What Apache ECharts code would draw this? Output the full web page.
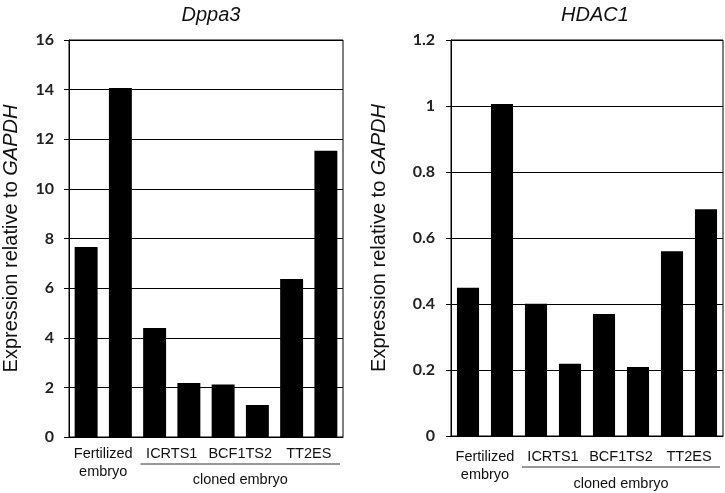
<!DOCTYPE html>
<html><head><meta charset="utf-8">
<script src="https://cdn.jsdelivr.net/npm/echarts@6/dist/echarts.min.js"></script>
<style>html,body{margin:0;padding:0;background:#fff}#c{width:725px;height:493px}</style>
</head><body><div id="c"></div>
<script>
const barCats = ['Fertilized-1','Fertilized-2','ICRTS1-1','ICRTS1-2','BCF1TS2-1','BCF1TS2-2','TT2ES-1','TT2ES-2'];
const groupLabels = ['Fertilized\nembryo','ICRTS1','BCF1TS2','TT2ES'];
const clonedLabels = ['', '', 'cloned embryo', ''];
const dppa3 = [7.66, 14.07, 4.39, 2.18, 2.12, 1.29, 6.37, 11.54];
const hdac1 = [0.449, 1.006, 0.401, 0.219, 0.370, 0.209, 0.560, 0.687];
const titles = ['Dppa3', 'HDAC1'];
const dppa3Ticks = {min: 0, max: 16, interval: 2};
const hdac1Ticks = {min: 0, max: 1.2, interval: 0.2};

const chart = echarts.init(document.getElementById('c'));
const font = 'Liberation Sans, Arial, sans-serif';
const grids = [
  {left: 68, right: 382, top: 40, bottom: 56},
  {left: 451, right: 2, top: 40, bottom: 56}
];
function xAxes(gi, m1, m2) {
  return [
    {gridIndex: gi, type: 'category', data: barCats, position: 'bottom',
     axisLine: {lineStyle: {color: '#000', width: 1}}, axisTick: {show: false}, axisLabel: {show: false}},
    {gridIndex: gi, type: 'category', data: groupLabels, position: 'bottom',
     axisLine: {show: false}, axisTick: {show: false},
     axisLabel: {interval: 0, margin: m1, fontFamily: font, fontSize: 14.5, lineHeight: 18, color: '#111'}},
    {gridIndex: gi, type: 'category', data: clonedLabels, position: 'bottom',
     axisLine: {show: false}, axisTick: {show: false},
     axisLabel: {interval: 0, margin: m2, fontFamily: font, fontSize: 14.5, lineHeight: 18, color: '#111'}}
  ];
}
function yAxis(gi, t, gap, lm) {
  return {gridIndex: gi, type: 'value', min: t.min, max: t.max, interval: t.interval,
    axisLine: {show: true, lineStyle: {color: '#000'}},
    axisTick: {show: true, length: 5, lineStyle: {color: '#000'}},
    splitLine: {lineStyle: {color: '#000', width: 1}},
    axisLabel: {margin: lm, fontFamily: 'Lato, Open Sans, sans-serif', fontWeight: 'bold', fontSize: 16, color: '#222'},
    name: '{n|Expression relative to }{i|GAPDH}', nameLocation: 'middle', nameGap: gap,
    nameTextStyle: {rich: {n: {fontFamily: font, fontSize: 20, color: '#111'},
                           i: {fontFamily: font, fontSize: 20, fontStyle: 'italic', color: '#111'}}}
  };
}
const option = {
  animation: false,
  backgroundColor: '#fff',
  title: [
    {text: titles[0], left: 206, top: 0, textAlign: 'center',
     textStyle: {fontFamily: font, fontSize: 20, fontStyle: 'italic', fontWeight: 'normal', color: '#111'}},
    {text: titles[1], left: 590, top: 0, textAlign: 'center',
     textStyle: {fontFamily: font, fontSize: 20, fontStyle: 'italic', fontWeight: 'normal', color: '#111'}}
  ],
  grid: grids.map(g => Object.assign({show: true, borderColor: '#000', borderWidth: 1, backgroundColor: 'transparent'}, g)),
  xAxis: [...xAxes(0, 8, 34), ...xAxes(1, 12, 39)],
  yAxis: [yAxis(0, dppa3Ticks, 48, 15), yAxis(1, hdac1Ticks, 62, 16)],
  series: [
    {type: 'bar', xAxisIndex: 0, yAxisIndex: 0, data: dppa3, barCategoryGap: '33%', itemStyle: {color: '#000'}},
    {type: 'bar', xAxisIndex: 3, yAxisIndex: 1, data: hdac1, barCategoryGap: '35%', itemStyle: {color: '#000'}}
  ]
};
chart.setOption(option);

function underline(xi, yi, dy) {
  const p0 = chart.convertToPixel({xAxisIndex: xi}, barCats[0]);
  const p1 = chart.convertToPixel({xAxisIndex: xi}, barCats[1]);
  const w = p1 - p0;
  const x1 = chart.convertToPixel({xAxisIndex: xi}, barCats[2]) - w / 2 + 3;
  const x2 = chart.convertToPixel({xAxisIndex: xi}, barCats[7]) + w / 2 - 3;
  const y = chart.convertToPixel({yAxisIndex: yi}, 0) + dy;
  return {type: 'line', shape: {x1: x1, y1: y, x2: x2, y2: y}, style: {stroke: '#333', lineWidth: 1}};
}
chart.setOption({graphic: [underline(0, 0, 27), underline(3, 1, 31)]});
</script></body></html>
